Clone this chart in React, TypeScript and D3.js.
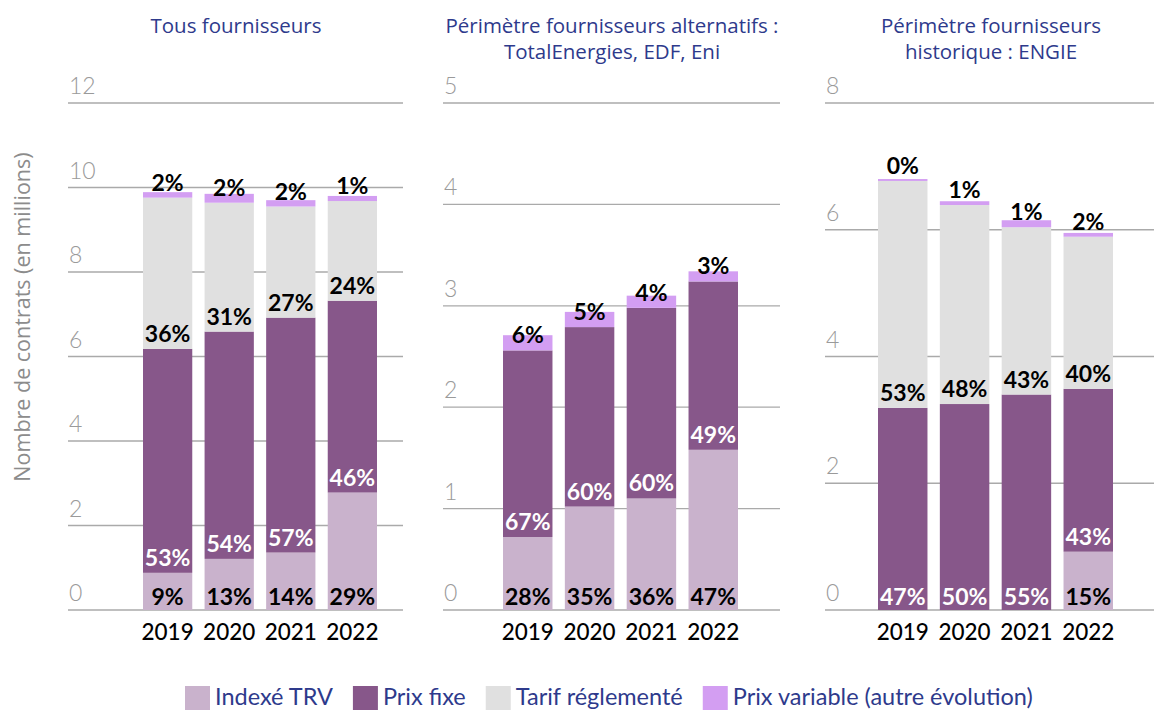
import React, { useEffect, useRef } from "react";
import * as d3 from "d3";

const years = ["2019", "2020", "2021", "2022"];
const seriesNames = ["Indexé TRV", "Prix fixe", "Tarif réglementé", "Prix variable (autre évolution)"];
const seriesColors = ["#c9b2cc", "#87578a", "#e0e0e0", "#d39ef2"];
const labelColors = ["#000000", "#ffffff", "#000000", "#000000"];

// Panel 1 : Tous fournisseurs (millions de contrats)
const indexe1 = [0.88, 1.21, 1.36, 2.78];
const fixe1 = [5.3, 5.38, 5.56, 4.54];
const tarif1 = [3.58, 3.05, 2.63, 2.36];
const variable1 = [0.13, 0.21, 0.15, 0.12];
const pctIndexe1 = ["9%", "13%", "14%", "29%"];
const pctFixe1 = ["53%", "54%", "57%", "46%"];
const pctTarif1 = ["36%", "31%", "27%", "24%"];
const pctVariable1 = ["2%", "2%", "2%", "1%"];
const ticks1 = [0, 2, 4, 6, 8, 10, 12];

// Panel 2 : fournisseurs alternatifs
const indexe2 = [0.72, 1.02, 1.1, 1.58];
const fixe2 = [1.84, 1.77, 1.88, 1.66];
const tarif2 = [0, 0, 0, 0];
const variable2 = [0.15, 0.15, 0.12, 0.1];
const pctIndexe2 = ["28%", "35%", "36%", "47%"];
const pctFixe2 = ["67%", "60%", "60%", "49%"];
const pctTarif2 = [null, null, null, null];
const pctVariable2 = ["6%", "5%", "4%", "3%"];
const ticks2 = [0, 1, 2, 3, 4, 5];

// Panel 3 : fournisseur historique ENGIE
const indexe3 = [0, 0, 0, 0.92];
const fixe3 = [3.19, 3.25, 3.4, 2.57];
const tarif3 = [3.58, 3.14, 2.64, 2.4];
const variable3 = [0.03, 0.06, 0.11, 0.06];
const pctIndexe3 = [null, null, null, "15%"];
const pctFixe3 = ["47%", "50%", "55%", "43%"];
const pctTarif3 = ["53%", "48%", "43%", "40%"];
const pctVariable3 = ["0%", "1%", "1%", "2%"];
const ticks3 = [0, 2, 4, 6, 8];

const titles = [
  ["Tous fournisseurs"],
  ["Périmètre fournisseurs alternatifs :", "TotalEnergies, EDF, Eni"],
  ["Périmètre fournisseurs", "historique : ENGIE"],
];

const yAxisTitle = "Nombre de contrats (en millions)";

const panelsData = [
  { values: [indexe1, fixe1, tarif1, variable1], pcts: [pctIndexe1, pctFixe1, pctTarif1, pctVariable1], ticks: ticks1 },
  { values: [indexe2, fixe2, tarif2, variable2], pcts: [pctIndexe2, pctFixe2, pctTarif2, pctVariable2], ticks: ticks2 },
  { values: [indexe3, fixe3, tarif3, variable3], pcts: [pctIndexe3, pctFixe3, pctTarif3, pctVariable3], ticks: ticks3 },
];

// layout (positions only)
const layout = [
  { gridL: 68, gridR: 403, bandL: 143, bandR: 377, titleX: 236 },
  { gridL: 443, gridR: 780, bandL: 503, bandR: 738, titleX: 612 },
  { gridL: 825, gridR: 1165, bandL: 878, bandR: 1113, titleX: 991 },
];

const W = 1154;
const H = 710;
const plotTop = 103;
const plotBottom = 610;
const FONT = "Lato, 'Noto Sans', sans-serif";
const WIDE = "'Open Sans', 'Noto Sans', sans-serif";
const TITLE_COLOR = "#2e3a8c";

export default function App() {
  const ref = useRef<SVGSVGElement | null>(null);

  useEffect(() => {
    document.body.style.margin = "0";
    const svg = d3.select(ref.current);
    svg.selectAll("*").remove();

    // y axis title
    svg
      .append("text")
      .attr("transform", `translate(30, 317) rotate(-90)`)
      .attr("text-anchor", "middle")
      .attr("font-family", WIDE)
      .attr("font-size", 21.5)
      .attr("fill", "#8c8c8c")
      .text(yAxisTitle);

    panelsData.forEach((p, pi) => {
      const L = layout[pi];
      const g = svg.append("g");
      const maxTick = p.ticks[p.ticks.length - 1];
      const y = d3.scaleLinear().domain([0, maxTick]).range([plotBottom, plotTop]);
      const x = d3.scaleBand<string>().domain(years).range([L.bandL, L.bandR]).paddingInner(0.2).paddingOuter(0);

      // title
      const tt = g
        .append("text")
        .attr("text-anchor", "middle")
        .attr("font-family", WIDE)
        .attr("font-size", 20.5)
        .attr("fill", TITLE_COLOR);
      titles[pi].forEach((line, li) => {
        tt.append("tspan")
          .attr("x", L.titleX)
          .attr("y", 33 + li * 26)
          .text(line);
      });

      // gridlines + tick labels
      p.ticks.forEach((t) => {
        g.append("line")
          .attr("x1", L.gridL)
          .attr("x2", L.gridR)
          .attr("y1", y(t))
          .attr("y2", y(t))
          .attr("stroke", "#aaaaaa")
          .attr("stroke-width", 1.3);
        g.append("text")
          .attr("x", L.gridL + 1)
          .attr("y", y(t) - 9)
          .attr("font-family", FONT)
          .attr("font-weight", 300)
          .attr("font-size", 23)
          .attr("fill", "#9a9a9a")
          .text(String(t));
      });

      // stacked bars
      const rows = years.map((yr, i) => {
        const r: any = { year: yr };
        seriesNames.forEach((s, si) => (r[s] = p.values[si][i]));
        return r;
      });
      const stack = d3.stack<any>().keys(seriesNames)(rows);

      stack.forEach((layer, si) => {
        layer.forEach((d, i) => {
          const h = y(d[0]) - y(d[1]);
          if (h <= 0) return;
          g.append("rect")
            .attr("x", x(years[i])!)
            .attr("width", x.bandwidth())
            .attr("y", y(d[1]))
            .attr("height", h)
            .attr("fill", seriesColors[si]);
        });
      });

      // labels
      stack.forEach((layer, si) => {
        layer.forEach((d, i) => {
          const lab = p.pcts[si][i];
          if (!lab) return;
          const atBase = d[0] === 0;
          g.append("text")
            .attr("x", x(years[i])! + x.bandwidth() / 2)
            .attr("y", y(d[0]) - (atBase ? 5 : 7))
            .attr("text-anchor", "middle")
            .attr("font-family", FONT)
            .attr("font-weight", 700)
            .attr("font-size", 23)
            .attr("fill", labelColors[si])
            .text(lab);
        });
      });

      // x labels
      years.forEach((yr) => {
        g.append("text")
          .attr("x", x(yr)! + x.bandwidth() / 2)
          .attr("y", 640)
          .attr("text-anchor", "middle")
          .attr("font-family", FONT)
          .attr("font-weight", 500)
          .attr("font-size", 22.5)
          .attr("fill", "#000")
          .text(yr);
      });
    });

    // legend
    const lg = svg.append("g");
    let cx = 0;
    seriesNames.forEach((s, si) => {
      lg.append("rect").attr("x", cx).attr("y", 686).attr("width", 25).attr("height", 24).attr("fill", seriesColors[si]);
      const t = lg
        .append("text")
        .attr("x", cx + 30)
        .attr("y", 705)
        .attr("font-family", FONT)
        .attr("font-size", 23.5)
        .attr("fill", TITLE_COLOR)
        .text(s);
      const w = (t.node() as SVGTextElement).getComputedTextLength();
      cx += 30 + w + 20;
    });
    const total = cx - 20;
    lg.attr("transform", `translate(${185},0)`);
    void total;
  }, []);

  return <svg ref={ref} width={W} height={H} style={{ display: "block" }} />;
}
